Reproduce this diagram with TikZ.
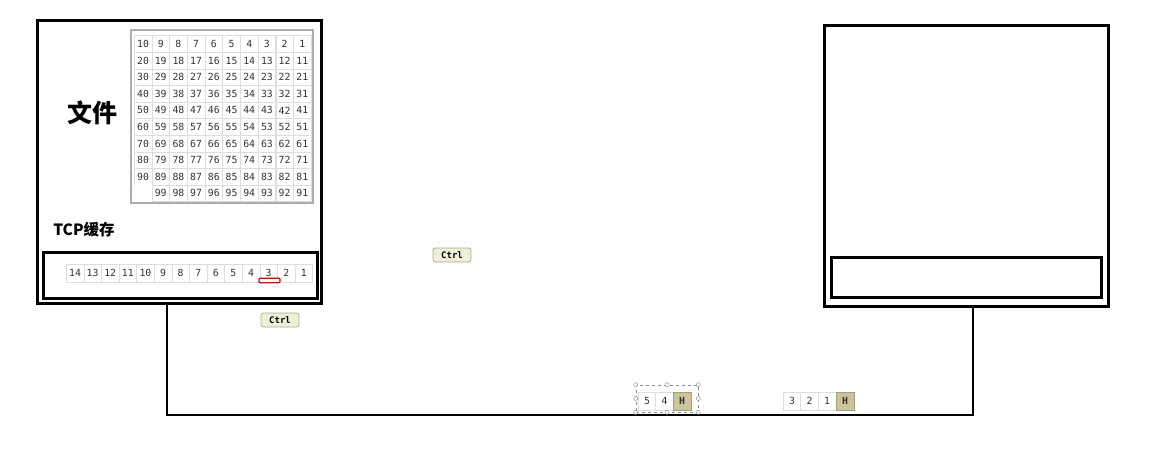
\documentclass[tikz,border=0pt]{standalone}
\usepackage{fontspec}
\newfontfamily\cjk{Noto Sans CJK SC}
\newfontfamily\numfont{DejaVu Sans Mono}
\definecolor{cellline}{HTML}{DDDDDD}
\definecolor{hfill}{HTML}{CBC49C}
\definecolor{ctrlfill}{HTML}{EEEFD8}
\definecolor{ctrlline}{HTML}{A9AA8C}
\begin{document}
\begin{tikzpicture}[x=1pt,y=-1pt,
  host/.style={draw, line width=3pt, inner sep=0pt},
  cell/.style={draw=cellline, line width=0.5pt, fill=white, minimum width=17.6pt, minimum height=16.6pt, inner sep=0pt, font=\numfont\fontsize{9.8}{10}\selectfont, text=black!80},
  bcell/.style={cell, minimum height=18pt},
  hcell/.style={bcell, fill=hfill, draw=hfill!80!black, font=\numfont\bfseries\fontsize{9.8}{10}\selectfont},
  ctrl/.style={draw=ctrlline, fill=ctrlfill, line width=0.8pt, rounded corners=2.5pt, minimum width=38pt, minimum height=14pt, inner sep=0pt, font=\numfont\bfseries\fontsize{9}{9}\selectfont},
  handle/.style={circle, draw=gray!80, fill=white, line width=0.5pt, minimum size=4pt, inner sep=0pt},
  wire/.style={line width=2pt}
]
\useasboundingbox (0,0) rectangle (1170,453);

% hosts
\node[host, minimum width=284pt, minimum height=283pt] (hostA) at (179,161.5) {};
\node[host, minimum width=274pt, minimum height=46pt] (bufA) at (180,275) {};
\node[host, minimum width=284pt, minimum height=281pt] (hostB) at (966,165.5) {};
\node[host, minimum width=270pt, minimum height=40pt] (bufB) at (966,277) {};

% labels
\node[font=\cjk\bfseries\fontsize{25}{26}\selectfont] (file) at (92,113) {文件};
\node[font=\cjk\bfseries\fontsize{15.5}{16}\selectfont] (tcp) at (84,230) {TCP缓存};

% file grid
\node[draw=gray!65, line width=1.2pt, minimum width=182pt, minimum height=173pt, inner sep=0pt] (grid) at (222,116.5) {};
\foreach \r in {0,...,9} {
  \foreach \c in {0,...,9} {
    \pgfmathtruncatemacro\v{10*\r+10-\c}
    \ifnum\v=100
      \node[cell, draw=none] (g-\r-\c) at (143+17.7*\c, 44+16.6*\r) {};
    \else
      \node[cell] (g-\r-\c) at (143+17.7*\c, 44+16.6*\r) {\v};
    \fi
  }
}

% TCP buffer cells
\foreach \i in {0,...,13} {
  \pgfmathtruncatemacro\v{14-\i}
  \node[bcell] (b-\v) at (75+17.6*\i, 273) {\v};
}
\node[draw=red!85!black, fill=white, line width=1.2pt, rounded corners=1pt, minimum width=21pt, minimum height=4.5pt, inner sep=0pt] (mark) at (269.5,280.5) {};

% ctrl badges
\node[ctrl] (ctrl1) at (452,255) {Ctrl};
\node[ctrl] (ctrl2) at (280,320) {Ctrl};

% connection
\coordinate (cA) at (167,415);
\coordinate (cB) at (973,415);
\draw[wire] (hostA.south -| cA) -- (cA) -- (cB) -- (hostB.south -| cB);

% packet 1 (selected)
\node[bcell] (p1-5) at (647,401) {5};
\node[bcell] (p1-4) at (664.5,401) {4};
\node[hcell] (p1-h) at (682,401) {H};
\node[draw=gray!90, dashed, line width=0.6pt, minimum width=62pt, minimum height=27pt, inner sep=0pt] (sel) at (667,398.5) {};
\foreach \a in {north west,north,north east,west,east,south west,south,south east}
  \node[handle] at (sel.\a) {};

% packet 2
\node[bcell] (p2-3) at (792,401) {3};
\node[bcell] (p2-2) at (809.5,401) {2};
\node[bcell] (p2-1) at (827,401) {1};
\node[hcell] (p2-h) at (845,401) {H};
\end{tikzpicture}
\end{document}
